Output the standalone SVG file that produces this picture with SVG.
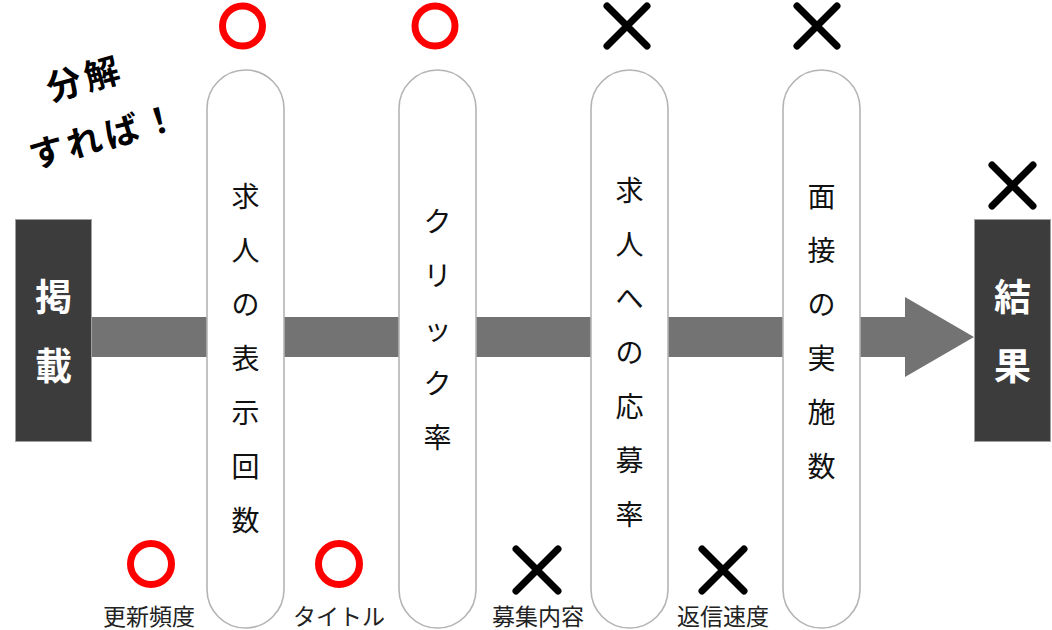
<svg xmlns="http://www.w3.org/2000/svg" width="1052" height="630" viewBox="0 0 1052 630">
<style>
text{font-family:"Noto Sans CJK JP","Noto Sans CJK SC",sans-serif;}
.box{fill:#3c3c3c;stroke:#a0a0a0;stroke-width:1}
.boxt{fill:#fff;font-size:37px;font-weight:bold;text-anchor:middle}
.pill{fill:#fff;stroke:#b4b4b4;stroke-width:1.6}
.pt{fill:#111;font-size:28px;text-anchor:middle}
.ok{fill:none;stroke:#ff0000;stroke-width:7}
.ng{stroke:#000;stroke-width:7;stroke-linecap:round}
.lbl{fill:#222;font-size:23px;text-anchor:middle}
.head{fill:#000;font-size:35px;font-weight:bold;text-anchor:middle;letter-spacing:4px}
</style>
<rect width="1052" height="630" fill="#fff"/>
<g id="connectors">
<polygon points="92,317 905,317 905,297 974,337 905,377 905,357 92,357" fill="#737373"/>
</g>
<g id="node-keisai">
<rect class="box" x="15.5" y="219.5" width="76" height="222"/>
<text class="boxt" x="53.5" y="311">掲</text>
<text class="boxt" x="53.5" y="380">載</text>
</g>
<g id="node-kekka">
<rect class="box" x="974.5" y="219.5" width="76" height="222"/>
<text class="boxt" x="1012.5" y="311">結</text>
<text class="boxt" x="1012.5" y="380">果</text>
</g>
<g id="node-hyoji">
<rect class="pill" x="207" y="70" width="77" height="558" rx="38.5"/>
<text class="pt"><tspan x="245.5" y="207">求</tspan><tspan x="245.5" y="261">人</tspan><tspan x="245.5" y="315">の</tspan><tspan x="245.5" y="369">表</tspan><tspan x="245.5" y="423">示</tspan><tspan x="245.5" y="477">回</tspan><tspan x="245.5" y="531">数</tspan></text>
</g>
<g id="node-click">
<rect class="pill" x="399" y="70" width="77" height="558" rx="38.5"/>
<text class="pt"><tspan x="437.5" y="232">ク</tspan><tspan x="437.5" y="286">リ</tspan><tspan x="437.5" y="340">ッ</tspan><tspan x="437.5" y="394">ク</tspan><tspan x="437.5" y="448">率</tspan></text>
</g>
<g id="node-oubo">
<rect class="pill" x="591" y="70" width="77" height="558" rx="38.5"/>
<text class="pt"><tspan x="629.5" y="201">求</tspan><tspan x="629.5" y="255">人</tspan><tspan x="629.5" y="309">へ</tspan><tspan x="629.5" y="363">の</tspan><tspan x="629.5" y="417">応</tspan><tspan x="629.5" y="471">募</tspan><tspan x="629.5" y="525">率</tspan></text>
</g>
<g id="node-mensetsu">
<rect class="pill" x="783" y="70" width="77" height="558" rx="38.5"/>
<text class="pt"><tspan x="821.5" y="207">面</tspan><tspan x="821.5" y="261">接</tspan><tspan x="821.5" y="315">の</tspan><tspan x="821.5" y="369">実</tspan><tspan x="821.5" y="423">施</tspan><tspan x="821.5" y="477">数</tspan></text>
</g>
<g id="marks-top">
<circle class="ok" cx="242.5" cy="26" r="20"/>
<circle class="ok" cx="435" cy="26" r="20"/>
<path class="ng" d="M607,6 L647,46 M647,6 L607,46"/>
<path class="ng" d="M797,6 L837,46 M837,6 L797,46"/>
<path class="ng" d="M992,165 L1033,206 M1033,165 L992,206"/>
</g>
<g id="marks-bottom">
<circle class="ok" cx="151" cy="564" r="20.5"/>
<circle class="ok" cx="339" cy="564" r="20.5"/>
<path class="ng" d="M516,549 L558,591 M558,549 L516,591"/>
<path class="ng" d="M702,549 L744,591 M744,549 L702,591"/>
<text class="lbl" x="149" y="625">更新頻度</text>
<text class="lbl" x="339" y="625">タイトル</text>
<text class="lbl" x="538" y="625">募集内容</text>
<text class="lbl" x="723" y="625">返信速度</text>
</g>
<g id="heading" transform="translate(93,108) rotate(-15.6)">
<text class="head" x="0" y="-18">分解</text>
<text class="head" x="4" y="43">すれば！</text>
</g>
</svg>
